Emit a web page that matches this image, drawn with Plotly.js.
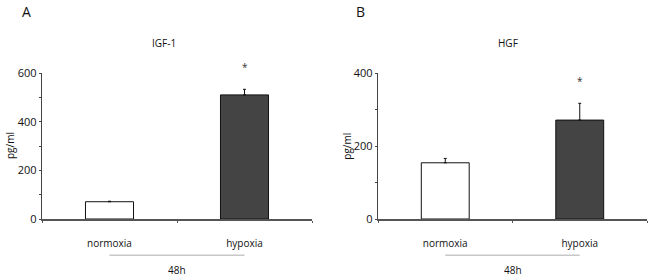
<!DOCTYPE html>
<html>
<head>
<meta charset="utf-8">
<script src="https://cdn.plot.ly/plotly-3.0.1.min.js"></script>
<style>html,body{margin:0;padding:0;background:#fff}#chart{width:650px;height:279px}</style>
</head>
<body>
<div id="chart"></div>
<script>
// Data
const categories = ["normoxia", "hypoxia"];
const igfValues = [71, 510];
const igfErrors = [2, 23];
const hgfValues = [154, 271];
const hgfErrors = [12, 46];
const significant = [false, true];
const panelTitles = ["IGF-1", "HGF"];
const panelLetters = ["A", "B"];
const yTitle = "pg/ml";
const groupLabel = "48h";

const FONT = "Open Sans, Noto Sans, sans-serif";
const barColors = ["#ffffff", "#444444"];

function barTrace(vals, errs, xa, ya) {
  return {
    type: "bar", x: categories, y: vals, xaxis: xa, yaxis: ya,
    width: 0.356,
    marker: {color: barColors, line: {color: "#111", width: 1}},
    error_y: {type: "data", array: errs, symmetric: false, arrayminus: [0,0], color: "#111", thickness: 1, width: 1.5},
    hoverinfo: "skip", showlegend: false
  };
}
function sigAnnotations(vals, errs, xa, ya) {
  const out = [];
  significant.forEach((s, i) => {
    if (!s) return;
    out.push({text: "*", xref: xa, yref: ya, x: categories[i], y: vals[i] + errs[i], yshift: 22, showarrow: false,
      xanchor: "center", yanchor: "middle", font: {family: FONT, size: 10, color: "#333"}});
  });
  return out;
}

const data = [
  barTrace(igfValues, igfErrors, "x", "y"),
  barTrace(hgfValues, hgfErrors, "x2", "y2")
];

const yDom = [1 - 219/279, 1 - 73/279];
function xAxis(dom, anchor) {
  return {
    domain: dom, anchor: anchor, type: "category", range: [-0.5, 1.5],
    showline: true, linecolor: "#555", linewidth: 1.5,
    ticks: "outside", tickson: "boundaries", ticklen: 2, tickcolor: "#555",
    showgrid: false, zeroline: false, fixedrange: true,
    ticklabelstandoff: 14,
    tickfont: {family: FONT, size: 10, color: "#111"}
  };
}
function yAxis(maxV, anchor) {
  return {
    domain: yDom, anchor: anchor, range: [0, maxV], tickmode: "linear", tick0: 0, dtick: 200,
    showline: true, linecolor: "#444", linewidth: 1.2,
    ticks: "outside", ticklen: 2, tickcolor: "#444",
    minor: {dtick: 100, ticks: "outside", ticklen: 2, tickcolor: "#444", tickwidth: 1},
    showgrid: false, zeroline: false, fixedrange: true,
    tickfont: {family: FONT, size: 11, color: "#111"}
  };
}

const lineY = 1 - 255.3/279;
const labY = 1 - 269.7/279;
const layout = {
  width: 650, height: 279,
  margin: {l: 0, r: 0, t: 0, b: 0},
  paper_bgcolor: "#fff", plot_bgcolor: "#fff",
  font: {family: FONT, size: 10, color: "#111"},
  xaxis: xAxis([42/650, 312/650], "y"),
  yaxis: yAxis(600, "x"),
  xaxis2: xAxis([378/650, 647/650], "y2"),
  yaxis2: yAxis(400, "x2"),
  bargap: 0,
  shapes: [
    {type: "line", xref: "x", yref: "paper", x0: 0, x1: 1, y0: lineY, y1: lineY, line: {color: "#c8c8c8", width: 1.5}},
    {type: "line", xref: "x2", yref: "paper", x0: 0, x1: 1, y0: lineY, y1: lineY, line: {color: "#c8c8c8", width: 1.5}}
  ],
  annotations: [
    {text: panelLetters[0], xref: "paper", yref: "paper", x: 26.7/650, y: 1 - 11/279, showarrow: false, xanchor: "center", yanchor: "middle", font: {family: FONT, size: 14, color: "#111"}},
    {text: panelLetters[1], xref: "paper", yref: "paper", x: 360/650, y: 1 - 11/279, showarrow: false, xanchor: "center", yanchor: "middle", font: {family: FONT, size: 14, color: "#111"}},
    {text: panelTitles[0], xref: "paper", yref: "paper", x: 164/650, y: 1 - 42.7/279, showarrow: false, xanchor: "center", yanchor: "middle", font: {family: FONT, size: 10, color: "#111"}},
    {text: panelTitles[1], xref: "paper", yref: "paper", x: 507.7/650, y: 1 - 42.7/279, showarrow: false, xanchor: "center", yanchor: "middle", font: {family: FONT, size: 10, color: "#111"}},
    {text: yTitle, xref: "paper", yref: "paper", x: 10/650, y: 1 - 146/279, textangle: -90, showarrow: false, xanchor: "center", yanchor: "middle", font: {family: FONT, size: 10, color: "#111"}},
    {text: yTitle, xref: "paper", yref: "paper", x: 346.7/650, y: 1 - 146/279, textangle: -90, showarrow: false, xanchor: "center", yanchor: "middle", font: {family: FONT, size: 10, color: "#111"}},
    {text: groupLabel, xref: "x", yref: "paper", x: 0.5, y: labY, showarrow: false, xanchor: "center", yanchor: "middle", font: {family: FONT, size: 10, color: "#111"}},
    {text: groupLabel, xref: "x2", yref: "paper", x: 0.5, y: labY, showarrow: false, xanchor: "center", yanchor: "middle", font: {family: FONT, size: 10, color: "#111"}}
  ].concat(sigAnnotations(igfValues, igfErrors, "x", "y"), sigAnnotations(hgfValues, hgfErrors, "x2", "y2"))
};

Plotly.newPlot("chart", data, layout, {staticPlot: true, displayModeBar: false});
</script>
</body>
</html>
